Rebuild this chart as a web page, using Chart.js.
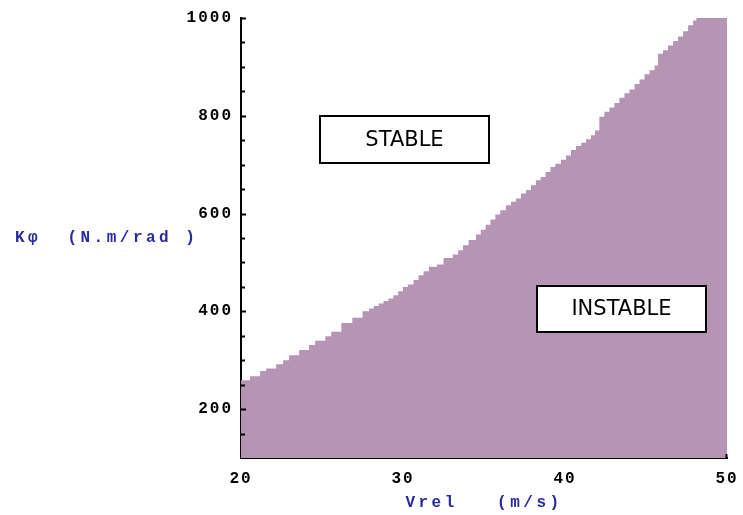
<!DOCTYPE html>
<html>
<head>
<meta charset="utf-8">
<script src="https://cdn.jsdelivr.net/npm/chart.js@4.4.1/dist/chart.umd.min.js"></script>
<style>
  html, body { margin: 0; padding: 0; background: #fff; }
  #wrap { width: 743px; height: 515px; }
</style>
</head>
<body>
<div id="wrap"><canvas id="stabChart" width="743" height="515"></canvas></div>
<script>
// stability boundary: Vrel (m/s) vs K-phi (N.m/rad)
const speeds = [
  20, 20.56, 21.18, 21.55, 22.17, 22.6, 22.97, 23.59, 24.2, 24.58,
  25.2, 25.57, 26.19, 26.87, 27.5, 27.9, 28.2, 28.5, 28.8, 29.1,
  29.4, 29.7, 30.0, 30.3, 30.65, 30.96, 31.27, 31.6, 32.1, 32.5,
  33.07, 33.4, 33.7, 34.05, 34.5, 34.8, 35.1, 35.4, 35.7, 36.0,
  36.35, 36.66, 36.97, 37.28, 37.6, 37.9, 38.2, 38.5, 38.8, 39.1,
  39.4, 39.75, 40.06, 40.37, 40.68, 41.0, 41.3, 41.6, 41.85, 42.12,
  42.43, 42.74, 43.05, 43.36, 43.67, 43.98, 44.29, 44.6, 44.91, 45.22,
  45.53, 45.74, 46.05, 46.36, 46.67, 46.98, 47.29, 47.6, 47.91, 48.11,
  50
];
const stiffness = [
  259, 267, 278, 283, 292, 300, 310, 321, 331, 340,
  349, 358, 376, 387, 400, 406, 411, 416, 421, 426,
  433, 441, 450, 455, 464, 474, 482, 491, 496, 509,
  516, 525, 535, 546, 557, 567, 577, 588, 598, 607,
  617, 624, 631, 641, 648, 658, 668, 675, 685, 695,
  702, 710, 719, 730, 738, 745, 752, 760, 770, 798,
  808, 817, 826, 837, 846, 854, 865, 874, 885, 893,
  903, 927, 934, 944, 953, 962, 973, 985, 995, 1000,
  1000
];
const xTicks = [20, 30, 40, 50];
const yLabelled = [200, 400, 600, 800, 1000];

const xTitle = "Vrel   (m/s)";
const yTitle = "K\u03c6  (N.m/rad )";
const stableText = "STABLE";
const instableText = "INSTABLE";

const MONO = "'Liberation Mono', 'DejaVu Sans Mono', monospace";
const TITLE_BLUE = "#2a2aa0";

// region label boxes, in data units [x0, x1, y0, y1]
const regionBoxes = [
  { text: stableText, box: [24.89, 35.29, 703, 800] },
  { text: instableText, box: [38.27, 48.73, 358, 452] }
];

const decorPlugin = {
  id: "decor",
  beforeDraw(chart) {
    chart.ctx.letterSpacing = "2px";
  },
  afterDatasetsDraw(chart) {
    const ctx = chart.ctx;
    const xs = chart.scales.x, ys = chart.scales.y;
    const area = chart.chartArea;
    ctx.save();

    // inward tick marks on the y axis (minor every 50, major every 200)
    ctx.strokeStyle = "#000";
    ctx.lineWidth = 2;
    ys.ticks.forEach(t => {
      if (t.value <= ys.min) return;
      const py = Math.round(ys.getPixelForValue(t.value)) + 0.5;
      const len = yLabelled.includes(t.value) ? 5 : 4;
      ctx.beginPath();
      ctx.moveTo(area.left, py);
      ctx.lineTo(area.left + len, py);
      ctx.stroke();
    });
    // small end tick at the right end of the x axis
    const pxEnd = Math.round(xs.getPixelForValue(xs.max)) - 0.5;
    ctx.beginPath();
    ctx.moveTo(pxEnd, area.bottom);
    ctx.lineTo(pxEnd, area.bottom - 4);
    ctx.stroke();

    // labelled boxes
    ctx.letterSpacing = "0px";
    regionBoxes.forEach(r => {
      const x0 = Math.round(xs.getPixelForValue(r.box[0]));
      const x1 = Math.round(xs.getPixelForValue(r.box[1]));
      const y0 = Math.round(ys.getPixelForValue(r.box[3]));
      const y1 = Math.round(ys.getPixelForValue(r.box[2]));
      ctx.fillStyle = "#fff";
      ctx.fillRect(x0, y0, x1 - x0, y1 - y0);
      ctx.strokeStyle = "#000";
      ctx.lineWidth = 2;
      ctx.strokeRect(x0, y0, x1 - x0, y1 - y0);
      ctx.fillStyle = "#000";
      ctx.font = "21px 'DejaVu Sans', Verdana, sans-serif";
      ctx.textAlign = "center";
      ctx.textBaseline = "middle";
      ctx.fillText(r.text, (x0 + x1) / 2, (y0 + y1) / 2 + 1);
    });

    // axis titles (the y title stays horizontal, left of the axis)
    ctx.letterSpacing = "3.5px";
    ctx.fillStyle = TITLE_BLUE;
    ctx.font = "bold 16px " + MONO;
    ctx.textAlign = "left";
    ctx.textBaseline = "middle";
    ctx.fillText(yTitle, 15, (area.top + area.bottom) / 2);
    ctx.textAlign = "center";
    ctx.fillText(xTitle, (area.left + area.right) / 2, 503);

    ctx.restore();
  },
  afterDraw(chart) {
    chart.ctx.letterSpacing = "0px";
  }
};

new Chart(document.getElementById("stabChart"), {
  type: "line",
  data: {
    datasets: [{
      label: "Instable region",
      data: speeds.map((v, i) => ({ x: v, y: stiffness[i] })),
      stepped: true,
      fill: "start",
      backgroundColor: "#b594b4",
      borderWidth: 0,
      pointRadius: 0
    }]
  },
  options: {
    responsive: false,
    animation: false,
    layout: { padding: { top: 18, right: 16, bottom: 0, left: 0 } },
    plugins: {
      legend: { display: false },
      tooltip: { enabled: false }
    },
    scales: {
      x: {
        type: "linear",
        min: 20,
        max: 50,
        afterBuildTicks: s => { s.ticks = xTicks.map(v => ({ value: v })); },
        ticks: {
          color: "#000",
          padding: 11,
          maxRotation: 0,
          font: { family: MONO, size: 16, weight: "bold" }
        },
        grid: { display: false, drawTicks: false },
        border: { color: "#000", width: 2 },
        afterFit: s => { s.height = 57; s.paddingLeft = 0; s.paddingRight = 0; }
      },
      y: {
        type: "linear",
        min: 100,
        max: 1000,
        ticks: {
          stepSize: 50,
          autoSkip: false,
          color: "#000",
          padding: 8,
          font: { family: MONO, size: 16, weight: "bold" },
          callback: v => (yLabelled.includes(v) ? String(v) : "")
        },
        grid: { display: false, drawTicks: false },
        border: { color: "#000", width: 2 },
        afterFit: s => { s.width = 241; s.paddingTop = 0; s.paddingBottom = 0; }
      }
    }
  },
  plugins: [decorPlugin]
});
</script>
</body>
</html>
